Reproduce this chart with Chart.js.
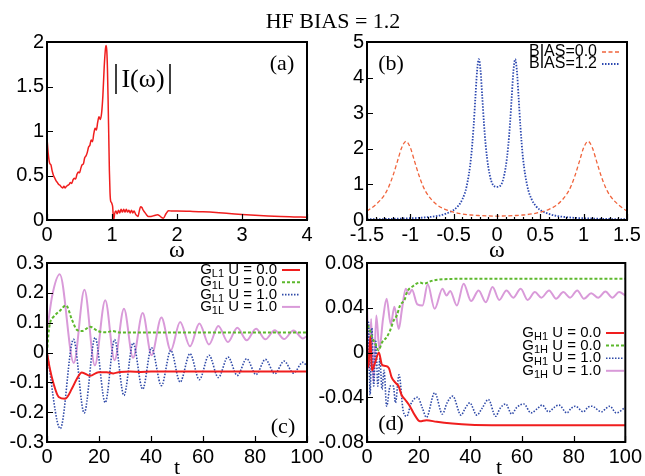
<!DOCTYPE html>
<html>
<head>
<meta charset="utf-8">
<script src="https://cdn.jsdelivr.net/npm/chart.js@4.4.1/dist/chart.umd.min.js"></script>
<style>
  html, body { margin: 0; padding: 0; background: #fff; overflow: hidden; }
  #wrap { position: relative; width: 645px; height: 476px; }
  #wrap canvas { position: absolute; left: 0; top: 0; }
</style>
</head>
<body>
<div id="wrap">
  <canvas id="chartA" width="645" height="476"></canvas>
  <canvas id="chartB" width="645" height="476"></canvas>
  <canvas id="chartC" width="645" height="476"></canvas>
  <canvas id="chartD" width="645" height="476"></canvas>
</div>
<script>
// ---- panel (a): |I(omega)| ----
const aOmega = [0,0.02,0.04,0.06,0.08,0.1,0.12,0.14,0.16,0.18,0.2,0.22,0.24,0.26,0.28,0.3,0.32,0.34,0.36,0.38,
  0.4,0.42,0.44,0.46,0.48,0.5,0.52,0.54,0.56,0.58,0.6,0.62,0.64,0.66,0.68,0.7,0.72,0.74,0.76,0.78,
  0.8,0.82,0.84,0.86,0.88,0.9,0.91,0.92,0.93,0.94,0.95,0.96,0.97,0.98,0.99,1.0,1.01,1.02,1.03,1.04,
  1.06,1.08,1.1,1.12,1.14,1.16,1.18,1.2,1.22,1.24,1.26,1.28,1.3,1.32,1.34,1.36,1.38,1.4,1.42,1.44,1.46,1.48,1.5,
  1.53,1.56,1.6,1.65,1.7,1.73,1.76,1.79,1.83,1.87,1.92,2.0,
  2.2,2.4,2.6,2.8,3.0,3.2,3.4,3.6,3.8,4.0];
const aAbsI = [0.92,0.74,0.64,0.62,0.55,0.50,0.47,0.44,0.42,0.40,0.39,0.37,0.36,0.38,0.36,0.38,0.39,0.40,0.42,0.41,
  0.45,0.47,0.46,0.51,0.54,0.53,0.58,0.62,0.63,0.70,0.72,0.76,0.82,0.84,0.90,0.88,0.97,1.03,1.01,1.10,
  1.16,1.13,1.20,1.40,1.72,1.93,1.96,1.90,1.70,1.35,0.95,0.55,0.30,0.21,0.20,0.18,0.15,0.04,0.01,0.07,
  0.10,0.07,0.11,0.08,0.12,0.09,0.12,0.09,0.12,0.09,0.11,0.08,0.11,0.08,0.10,0.07,0.05,0.04,0.10,0.15,0.14,0.11,0.09,
  0.06,0.04,0.04,0.05,0.06,0.05,0.03,0.02,0.07,0.105,0.10,0.10,
  0.097,0.093,0.085,0.072,0.062,0.054,0.046,0.04,0.035,0.03];
const aXTicks = [0, 1, 2, 3, 4];
const aXLabels = ['0', '1', '2', '3', '4'];
const aYTicks = [0, 0.5, 1, 1.5, 2];
const aYLabels = ['0', '0.5', '1', '1.5', '2'];

// ---- panel (b): spectral functions ----
const bOmega0 = [-1.5,-1.4,-1.3,-1.25,-1.2,-1.15,-1.1,-1.05,-1.0,-0.95,-0.9,-0.85,-0.8,-0.7,-0.6,-0.5,-0.4,-0.3,-0.2,-0.1,
  0,0.1,0.2,0.3,0.4,0.5,0.6,0.7,0.8,0.85,0.9,0.95,1.0,1.05,1.1,1.15,1.2,1.25,1.3,1.4,1.5];
const bDos0 = [0.25,0.43,0.7,0.93,1.25,1.64,2.03,2.21,2.03,1.64,1.25,0.93,0.71,0.44,0.3,0.22,0.17,0.14,0.125,0.115,
  0.11,0.115,0.125,0.14,0.17,0.22,0.3,0.44,0.71,0.93,1.25,1.64,2.03,2.21,2.03,1.64,1.25,0.93,0.7,0.43,0.25];
const bOmega12 = [-1.5,-1.2,-1.0,-0.9,-0.8,-0.7,-0.6,-0.5,-0.45,-0.4,-0.35,-0.3,-0.27,-0.25,-0.23,-0.21,-0.19,-0.17,-0.15,-0.13,-0.1,-0.05,
  0,0.05,0.1,0.13,0.15,0.17,0.19,0.21,0.23,0.25,0.27,0.3,0.35,0.4,0.45,0.5,0.6,0.7,0.8,0.9,1.0,1.2,1.5];
const bDos12 = [0.02,0.033,0.05,0.06,0.08,0.11,0.17,0.28,0.39,0.58,0.95,1.74,2.63,3.42,4.18,4.52,4.2,3.46,2.7,2.09,1.48,1.0,
  0.93,1.0,1.48,2.09,2.7,3.46,4.2,4.52,4.18,3.42,2.63,1.74,0.95,0.58,0.39,0.28,0.17,0.11,0.08,0.06,0.05,0.033,0.02];
const bLabels = [['', '', 'BIAS=0.0'], ['', '', 'BIAS=1.2']];
const bXTicks = [-1.5, -1, -0.5, 0, 0.5, 1, 1.5];
const bXLabels = ['-1.5', '-1', '-0.5', '0', '0.5', '1', '1.5'];
const bYTicks = [0, 1, 2, 3, 4, 5];
const bYLabels = ['0', '1', '2', '3', '4', '5'];

// ---- panel (c): G_L1 / G_1L vs t ----
const cT_L1_U0 = [0,1,2.5,4.5,7,9.6,11.5,13.4,16.6,19.8,23,25.5,28,32,36,40,60,80,100];
const cG_L1_U0 = [0,-0.05,-0.104,-0.149,-0.155,-0.121,-0.088,-0.067,-0.078,-0.066,-0.066,-0.07,-0.065,-0.064,-0.065,-0.064,-0.064,-0.064,-0.064];
const cT_1L_U0 = [0,0.5,1.2,2.6,5,7.3,9.6,11.5,13.4,16.6,19.8,23,25,28,32,40,60,80,100];
const cG_1L_U0 = [0,0.058,0.1,0.12,0.14,0.158,0.11,0.076,0.072,0.086,0.071,0.068,0.072,0.067,0.067,0.067,0.067,0.067,0.067];
const cT_L1_U1 = [0,5.1,10.2,14.3,18.5,22.4,26,29.6,33.1,36.8,40.2,44,47.6,51.2,55,58.6,62.3,65.9,69.6,73.2,76.8,80.4,84,87.6,91.2,94.8,98.4,100];
const cG_L1_U1 = [0,-0.255,0.044,-0.203,0.05,-0.168,0.043,-0.144,0.032,-0.123,0.016,-0.111,0.007,-0.099,-0.004,-0.091,-0.009,-0.084,-0.015,-0.077,
  -0.021,-0.074,-0.023,-0.071,-0.029,-0.069,-0.033,-0.045];
const cT_1L_U1 = [0,2,4.9,10.3,14.4,18.4,22.4,26,29.6,33.1,36.8,40.2,44,47.6,51.2,55,58.6,62.3,65.9,69.6,73.2,76.8,80.4,84,87.6,91.2,94.8,98.4,100];
const cG_1L_U1 = [0.07,0.19,0.262,-0.035,0.21,-0.043,0.175,-0.026,0.147,-0.018,0.132,-0.009,0.117,0.007,0.102,0.021,0.097,0.027,0.089,0.035,
  0.083,0.041,0.08,0.044,0.075,0.045,0.074,0.047,0.055];
const cLabels = [['G', 'L1', ' U = 0.0'], ['G', '1L', ' U = 0.0'], ['G', 'L1', ' U = 1.0'], ['G', '1L', ' U = 1.0']];
const tTicks = [0, 20, 40, 60, 80, 100];
const tLabels = ['0', '20', '40', '60', '80', '100'];
const cYTicks = [-0.3, -0.2, -0.1, 0, 0.1, 0.2, 0.3];
const cYLabels = ['-0.3', '-0.2', '-0.1', '0', '0.1', '0.2', '0.3'];

// ---- panel (d): G_H1 / G_1H vs t ----
const dT_H1_U0 = [0,0.6,1.3,1.9,3,4.6,5.8,7,8.5,9.5,11,12.2,13.4,14.7,16.6,18.5,20.5,23,27,33,40,60,100];
const dG_H1_U0 = [-0.014,-0.011,0.014,-0.016,-0.01,0.0,-0.011,-0.012,-0.014,-0.022,-0.027,-0.03,-0.038,-0.042,-0.048,-0.056,-0.0615,-0.0605,-0.062,-0.0635,-0.0645,-0.065,-0.065];
const dT_1H_U0 = [0,0.6,1.9,3.2,4.5,5.8,7.7,9,10.2,11.5,12.8,14.7,15.3,17.9,20.5,22,25,28,32,36,60,100];
const dG_1H_U0 = [0.024,0.023,0.014,0.008,0.002,0.009,0.014,0.02,0.028,0.033,0.042,0.048,0.053,0.0595,0.0625,0.0615,0.064,0.0652,0.0657,0.066,0.066,0.066];
const dT_H1_U1 = [0,0.6,1.2,1.9,2.6,3.4,4.2,5,5.8,6.6,7.6,9,10.2,11,12.4,14,15.4,17,19.6,21.5,23,26.2,29.2,31,33.2,36.4,38,39.8,42.5,44.5,
  47,49.8,51.5,53.7,56,58,60.7,63.5,66,67.8,70.3,72.5,74.3,77.4,79,80.6,83.8,85.5,87,90.8,92.5,94,96.5,100];
const dG_H1_U1 = [-0.038,0.027,-0.038,0.022,-0.03,0.01,-0.03,-0.005,-0.033,-0.016,-0.048,-0.03,-0.03,-0.045,-0.02,-0.052,-0.057,-0.046,-0.04,-0.05,
  -0.058,-0.036,-0.055,-0.045,-0.039,-0.056,-0.05,-0.045,-0.056,-0.05,-0.042,-0.057,-0.05,-0.046,-0.055,-0.049,-0.046,-0.054,-0.05,-0.047,
  -0.053,-0.049,-0.047,-0.054,-0.05,-0.048,-0.053,-0.049,-0.048,-0.053,-0.05,-0.048,-0.054,-0.049];
const dT_1H_U1 = [0,0.8,1.6,2.5,3.6,4.8,6.2,7.6,9.2,10.6,12.3,13.5,15,16.2,17.4,19.5,21.5,23.5,26.2,29.2,30.8,32.2,34.8,37.4,40.3,43.2,46,48.6,51.2,54,
  56.6,59.5,62.2,65,67.5,70.5,73.2,76,78.6,81.4,84,86.8,89.5,92.3,95,97.6,100];
const dG_1H_U1 = [0.042,-0.015,0.03,-0.026,0.033,0.003,0.03,0.048,0.025,0.041,0.021,0.038,0.057,0.052,0.056,0.043,0.042,0.061,0.039,0.057,
  0.051,0.055,0.042,0.0615,0.046,0.0555,0.045,0.0585,0.047,0.0555,0.049,0.057,0.047,0.054,0.049,0.0555,0.048,0.054,0.049,0.0555,
  0.048,0.053,0.049,0.0545,0.049,0.054,0.051];
const dLabels = [['G', 'H1', ' U = 0.0'], ['G', '1H', ' U = 0.0'], ['G', 'H1', ' U = 1.0'], ['G', '1H', ' U = 1.0']];
const dYTicks = [-0.08, -0.04, 0, 0.04, 0.08];
const dYLabels = ['-0.08', '-0.04', '0', '0.04', '0.08'];

const W = 645, H = 476;
const tickFont = { family: '"Liberation Sans", Arial, sans-serif', size: 20 };
const serif = '"Liberation Serif", "Times New Roman", serif';

function pts(xs, ys) {
    return xs.map((x, i) => ({ x: x, y: ys[i] }));
}

function line(label, xs, ys, color, width, dash) {
    return {
        label: label,
        data: pts(xs, ys),
        borderColor: color,
        borderWidth: width,
        borderDash: dash || [],
        pointRadius: 0,
        fill: false,
        cubicInterpolationMode: 'monotone'
    };
}

// gnuplot-like frame: inward ticks, border, notes and a right-aligned key
const framePlugin = {
    id: 'frame',
    afterDatasetsDraw(chart, args, opts) {
        const ctx = chart.ctx, a = chart.chartArea;
        const xs = chart.scales.x, ys = chart.scales.y;
        ctx.save();
        ctx.strokeStyle = '#000';
        ctx.setLineDash([]);
        ctx.lineWidth = 1.2;
        ctx.beginPath();
        xs.ticks.forEach(t => {
            const px = Math.round(xs.getPixelForValue(t.value)) + 0.5;
            ctx.moveTo(px, a.bottom); ctx.lineTo(px, a.bottom - 6);
        });
        ys.ticks.forEach(t => {
            const py = Math.round(ys.getPixelForValue(t.value)) + 0.5;
            ctx.moveTo(a.left, py); ctx.lineTo(a.left + 6, py);
        });
        if (opts.minorX) {
            const n = Math.round((xs.max - xs.min) / opts.minorX);
            for (let i = 0; i <= n; i++) {
                const px = Math.round(xs.getPixelForValue(xs.min + i * opts.minorX)) + 0.5;
                ctx.moveTo(px, a.bottom); ctx.lineTo(px, a.bottom - 3);
            }
        }
        ctx.stroke();
        ctx.lineWidth = 2;
        ctx.strokeRect(a.left, a.top, a.right - a.left, a.bottom - a.top);

        ctx.fillStyle = '#000';
        (opts.notes || []).forEach(n => {
            if (n.bar) {
                ctx.lineWidth = 1.5;
                ctx.beginPath();
                ctx.moveTo(n.bar[0], n.bar[1]); ctx.lineTo(n.bar[0], n.bar[2]);
                ctx.stroke();
                return;
            }
            ctx.font = n.font;
            ctx.textAlign = 'center';
            ctx.textBaseline = n.base || 'middle';
            ctx.fillText(n.text, n.x, n.y);
        });

        if (opts.key) {
            const k = opts.key;
            chart.data.datasets.forEach((ds, i) => {
                const y = k.top + i * k.gap;
                const parts = k.labels[i];
                ctx.textBaseline = 'middle';
                ctx.textAlign = 'right';
                ctx.font = k.size + 'px "Liberation Sans", Arial, sans-serif';
                ctx.fillText(parts[2], k.right, y);
                let x = k.right - ctx.measureText(parts[2]).width;
                if (parts[1]) {
                    ctx.font = k.subSize + 'px "Liberation Sans", Arial, sans-serif';
                    ctx.fillText(parts[1], x, y + 4);
                    x -= ctx.measureText(parts[1]).width;
                }
                if (parts[0]) {
                    ctx.font = k.size + 'px "Liberation Sans", Arial, sans-serif';
                    ctx.fillText(parts[0], x, y);
                }
                ctx.strokeStyle = ds.borderColor;
                ctx.lineWidth = ds.borderWidth;
                ctx.setLineDash(ds.borderDash || []);
                ctx.beginPath();
                ctx.moveTo(k.right + 5, y); ctx.lineTo(k.right + 23, y);
                ctx.stroke();
                ctx.setLineDash([]);
            });
        }
        ctx.restore();
    }
};

function makeChart(id, box, xr, yr, datasets, frame) {
    // y labels get clipped to the axis box, so give it as much room as the panel allows
    const yw = Math.min(box[0], 60);
    return new Chart(document.getElementById(id), {
        type: 'line',
        data: { datasets: datasets },
        options: {
            responsive: false,
            animation: false,
            layout: { padding: { left: box[0] - yw, top: box[1], right: W - box[2], bottom: H - box[3] - 30 } },
            plugins: { legend: { display: false }, tooltip: { enabled: false }, frame: frame },
            scales: {
                x: {
                    type: 'linear', min: xr.min, max: xr.max,
                    afterFit: s => { s.height = 30; },
                    afterBuildTicks: s => { s.ticks = xr.ticks.map(v => ({ value: v })); },
                    grid: { display: false, drawTicks: false },
                    border: { display: false },
                    ticks: { padding: 3, color: '#000', font: tickFont, maxRotation: 0, autoSkip: false,
                             callback: (v, i) => xr.labels[i] }
                },
                y: {
                    type: 'linear', min: yr.min, max: yr.max,
                    afterFit: s => { s.width = yw; },
                    afterBuildTicks: s => { s.ticks = yr.ticks.map(v => ({ value: v })); },
                    grid: { display: false, drawTicks: false },
                    border: { display: false },
                    ticks: { padding: 3, color: '#000', font: tickFont, autoSkip: false,
                             callback: (v, i) => yr.labels[i] }
                }
            }
        },
        plugins: [framePlugin]
    });
}

const RED = '#f01e1e', GREEN = '#5cb82c', BLUE = '#2f4aa8', PINK = '#d99ad9';

makeChart('chartA', [47, 42, 307, 220],
    { min: 0, max: 4, ticks: aXTicks, labels: aXLabels },
    { min: 0, max: 2, ticks: aYTicks, labels: aYLabels },
    [line('|I(ω)|', aOmega, aAbsI, RED, 1.5)],
    { notes: [
        { text: 'HF BIAS = 1.2', x: 333, y: 28, base: 'alphabetic', font: '22px ' + serif },
        { text: '(a)', x: 282, y: 64, font: '22px ' + serif },
        { text: 'I(ω)', x: 143, y: 80, font: '26px ' + serif },
        { bar: [116, 64, 94] },
        { bar: [170, 64, 94] },
        { text: 'ω', x: 177, y: 257, base: 'alphabetic', font: '24px ' + serif }
    ] });

makeChart('chartB', [367, 42, 627, 220],
    { min: -1.5, max: 1.5, ticks: bXTicks, labels: bXLabels },
    { min: 0, max: 5, ticks: bYTicks, labels: bYLabels },
    [line('BIAS=0.0', bOmega0, bDos0, '#f0643c', 1.3, [4, 2.5]),
     line('BIAS=1.2', bOmega12, bDos12, '#2c48b0', 1.8, [1.5, 1.5])],
    { minorX: 0.1,
      key: { labels: bLabels, right: 597, top: 52, gap: 12, size: 16, subSize: 11 },
      notes: [
        { text: '(b)', x: 391, y: 64, font: '22px ' + serif },
        { text: 'ω', x: 497, y: 257, base: 'alphabetic', font: '24px ' + serif }
    ] });

makeChart('chartC', [47, 263, 307, 442],
    { min: 0, max: 100, ticks: tTicks, labels: tLabels },
    { min: -0.3, max: 0.3, ticks: cYTicks, labels: cYLabels },
    [line('GL1 U = 0.0', cT_L1_U0, cG_L1_U0, RED, 2),
     line('G1L U = 0.0', cT_1L_U0, cG_1L_U0, GREEN, 2, [3, 2]),
     line('GL1 U = 1.0', cT_L1_U1, cG_L1_U1, BLUE, 1.6, [1.5, 1.5]),
     line('G1L U = 1.0', cT_1L_U1, cG_1L_U1, PINK, 2)],
    { key: { labels: cLabels, right: 277, top: 270, gap: 12.3, size: 15, subSize: 11 },
      notes: [
        { text: '(c)', x: 283, y: 427, font: '22px ' + serif },
        { text: 't', x: 177, y: 474, base: 'alphabetic', font: '22px ' + serif }
    ] });

makeChart('chartD', [367, 263, 627, 442],
    { min: 0, max: 100, ticks: tTicks, labels: tLabels },
    { min: -0.08, max: 0.08, ticks: dYTicks, labels: dYLabels },
    [line('GH1 U = 0.0', dT_H1_U0, dG_H1_U0, RED, 2),
     line('G1H U = 0.0', dT_1H_U0, dG_1H_U0, GREEN, 2, [3, 2]),
     line('GH1 U = 1.0', dT_H1_U1, dG_H1_U1, BLUE, 1.6, [1.5, 1.5]),
     line('G1H U = 1.0', dT_1H_U1, dG_1H_U1, PINK, 2)],
    { key: { labels: dLabels, right: 601, top: 333, gap: 12.6, size: 15, subSize: 11 },
      notes: [
        { text: '(d)', x: 391, y: 424, font: '22px ' + serif },
        { text: 't', x: 499, y: 474, base: 'alphabetic', font: '22px ' + serif }
    ] });
</script>
</body>
</html>
